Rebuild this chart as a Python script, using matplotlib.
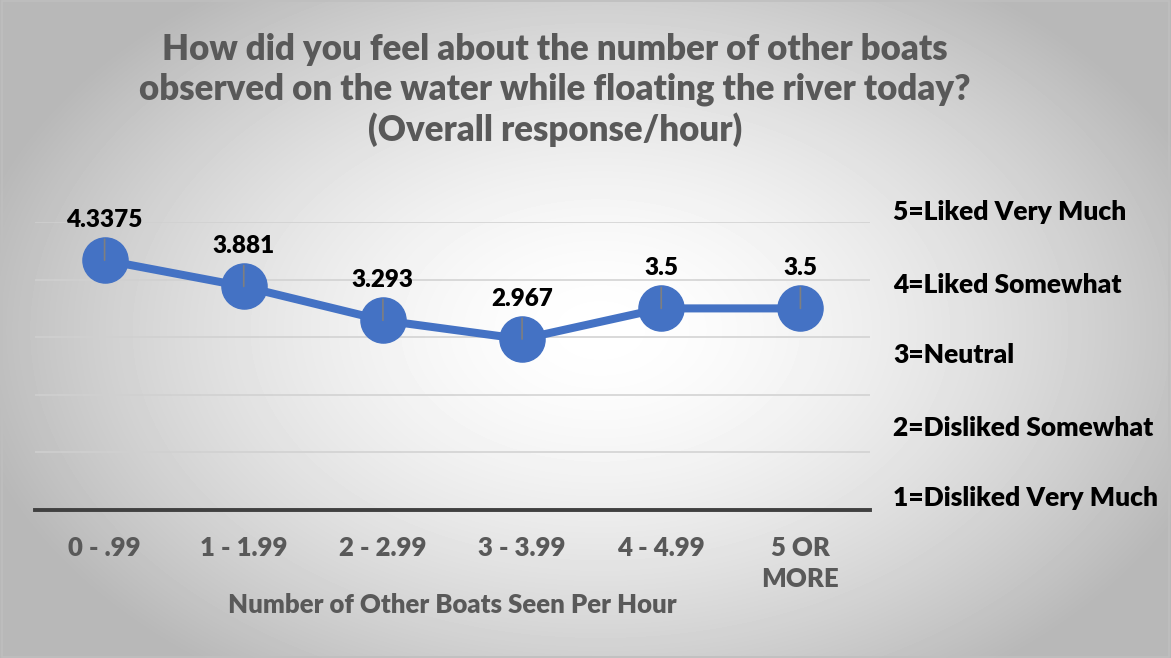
import numpy as np
import matplotlib.pyplot as plt
from matplotlib.patches import Rectangle

plt.rcParams['font.family'] = ['Lato', 'DejaVu Sans']

# data
categories = ['0 - .99', '1 - 1.99', '2 - 2.99', '3 - 3.99', '4 - 4.99', '5 OR\nMORE']
scores = [4.3375, 3.881, 3.293, 2.967, 3.5, 3.5]
score_labels = ['4.3375', '3.881', '3.293', '2.967', '3.5', '3.5']
scale_labels = ['5=Liked Very Much', '4=Liked Somewhat', '3=Neutral',
                '2=Disliked Somewhat', '1=Disliked Very Much']

W, H = 1171, 658
fig = plt.figure(figsize=(W / 100, H / 100), dpi=100)

# radial gradient background
bg = fig.add_axes([0, 0, 1, 1], zorder=-10)
yy, xx = np.mgrid[0:H, 0:W]
r = np.sqrt(((xx - 600) / 700.0) ** 2 + ((yy - 330) / 460.0) ** 2)
shade = np.clip(1.0 - 0.32 * r ** 1.6, 0.72, 1.0)
bg.imshow(shade, cmap='gray', vmin=0, vmax=1, aspect='auto', extent=[0, 1, 0, 1])
bg.set_axis_off()
fig.patches.append(Rectangle((0.002, 0.002), 0.996, 0.996, transform=fig.transFigure,
                             fill=False, edgecolor='#bfbfbf', lw=1.2))

ax = fig.add_axes([35 / W, (H - 510) / H, (870 - 35) / W, 288 / H])
ax.set_facecolor('none')
x = np.arange(len(categories))
ax.plot(x, scores, color='#4472C4', lw=5.8, marker='o', markersize=32.5,
        markerfacecolor='#4472C4', markeredgecolor='#4472C4', zorder=3)

for xi, yi, lab in zip(x, scores, score_labels):
    ax.annotate(lab, (xi, yi), xytext=(0, 29), textcoords='offset points',
                ha='center', va='center', fontsize=17.5, fontweight='heavy', color='black',
                arrowprops=dict(arrowstyle='-', color='#7f7f7f', lw=1.2, shrinkA=4, shrinkB=0),
                zorder=4)

ax.set_xlim(-0.5, len(categories) - 0.5)
ax.set_ylim(0, 5)
ax.set_yticks(range(0, 6))
ax.yaxis.grid(True, color='#d0d0d0', lw=1.1)
ax.set_axisbelow(True)
ax.tick_params(axis='y', left=False, labelleft=False)
ax.set_xticks(x)
ax.set_xticklabels(categories, fontsize=18.5, fontweight='heavy', color='#595959',
                   linespacing=1.35)
ax.tick_params(axis='x', length=0, pad=19)
for s in ['top', 'right', 'left']:
    ax.spines[s].set_visible(False)
ax.spines['bottom'].set_color('#404040')
ax.spines['bottom'].set_linewidth(2.8)
ax.set_xlabel('Number of Other Boats Seen Per Hour', fontsize=18.5, fontweight='heavy',
              color='#595959', labelpad=1)

fig.text(555 / W, 1 - 90 / H,
         'How did you feel about the number of other boats\n'
         'observed on the water while floating the river today?\n'
         '(Overall response/hour)',
         ha='center', va='center', fontsize=25, fontweight='heavy', color='#595959',
         linespacing=1.22)

label_y = [212, 285, 355, 428, 498]
for ly, lab in zip(label_y, scale_labels):
    fig.text(893 / W, 1 - ly / H, lab, ha='left', va='center', fontsize=19,
             fontweight='heavy', color='black')

fig.savefig('out.png', dpi=100)
